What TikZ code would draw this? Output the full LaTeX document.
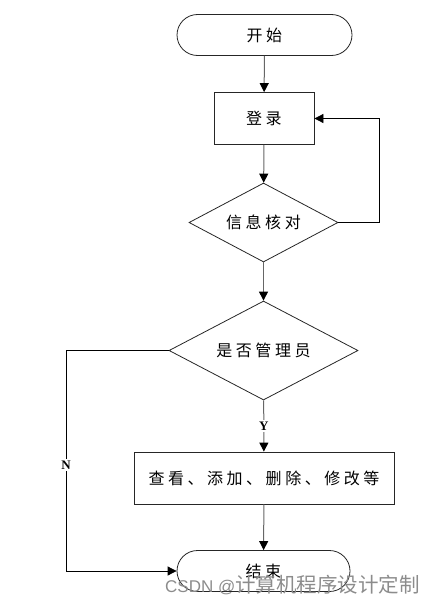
\documentclass[tikz,border=0pt]{standalone}
\usepackage{fontspec}
\setmainfont{Liberation Serif}
\newfontfamily\cjk[LetterSpace=22]{Noto Sans CJK SC}
\newfontfamily\cjkwm{Noto Sans CJK SC}
\newfontfamily\wmfont{Liberation Sans}
\usetikzlibrary{shapes.geometric,arrows.meta}
\begin{document}
\begin{tikzpicture}[x=1pt,y=-1pt,
  base/.style={draw=black!85, line width=0.8pt, font=\cjk\fontsize{16}{18}\selectfont, inner sep=0pt},
  term/.style={base, rounded corners=20.5pt, minimum width=175pt, minimum height=41pt},
  proc/.style={base, rectangle},
  deci/.style={base, diamond, shape aspect=1.9},
  flow/.style={draw=black!60, line width=1pt, -{Triangle[length=9pt,width=9pt,color=black]}},
  loop/.style={draw=black, line width=0.8pt, -{Triangle[length=9pt,width=9pt,color=black]}},
  lbl/.style={font=\bfseries\fontsize{13}{14}\selectfont, fill=white, inner sep=1.5pt}
]
\useasboundingbox (0,0) rectangle (430,605);
\node[term] (start) at (264.5,35) {开始};
\node[proc, minimum width=100pt, minimum height=52pt] (login) at (264,118.5) {登录};
\node[deci, minimum width=149pt, minimum height=79pt] (check) at (263.5,222.5) {信息核对};
\node[deci, minimum width=189pt, minimum height=99pt] (admin) at (263.5,350.5) {是否管理员};
\node[proc, minimum width=260pt, minimum height=52pt] (ops) at (264,478) {查看、添加、删除、修改等};
\node[term, minimum width=173pt] (end) at (263.5,571) {结束};
\coordinate (fb) at (379,222.5);
\coordinate (nc) at (66,350.5);
\draw[flow] (start) -- (login);
\draw[flow] (login) -- (check);
\draw[flow] (check) -- (admin);
\draw[flow] (admin) -- node[lbl] (ylab) {Y} (ops);
\draw[flow] (ops) -- (end);
\draw[loop] (check.east) -- (fb) |- (login.east);
\draw[loop] (admin.west) -- (nc) |- node[lbl, pos=0.26] (nlab) {N} (end.west);
\node[anchor=west, text=black!45, inner sep=0pt] (wm) at (165,585) {{\wmfont\fontsize{17}{18}\selectfont CSDN @}{\cjkwm\fontsize{20.5}{22}\selectfont 计算机程序设计定制}};
\end{tikzpicture}
\end{document}
